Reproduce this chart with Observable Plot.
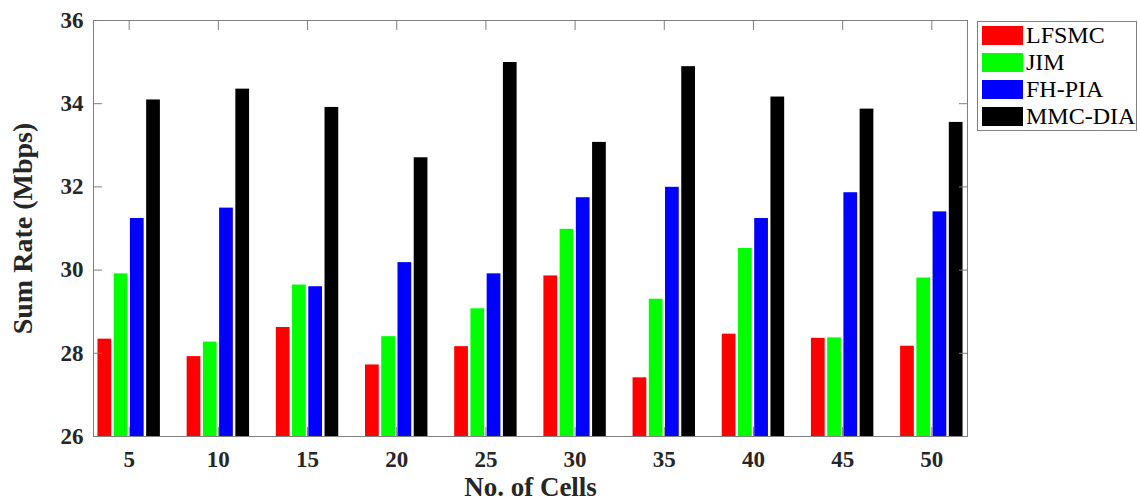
<!DOCTYPE html>
<html><head><meta charset="utf-8">
<script src="https://cdn.jsdelivr.net/npm/d3@7"></script>
<script src="https://cdn.jsdelivr.net/npm/@observablehq/plot@0.6"></script>
<style>
body{margin:0;background:#fff}
#wrap{position:relative;width:1138px;height:503px;font-family:"Liberation Serif","Times New Roman",serif}
#legend{position:absolute;left:977px;top:21px;width:160px;height:110px;border:1px solid #7f7f7f;box-sizing:border-box;background:#fff}
.row{position:absolute;left:4px;height:19px;display:flex;align-items:center}
.sw{width:41px;height:19px;box-sizing:border-box}
.lab{margin-left:3px;font-size:24px;line-height:19px;color:#000;white-space:nowrap}
</style></head><body>
<div id="wrap"><div id="chart"></div><div id="legend"></div></div>
<script>
const cells = [5, 10, 15, 20, 25, 30, 35, 40, 45, 50];
const series = ["LFSMC", "JIM", "FH-PIA", "MMC-DIA"];
const colors = ["#ff0000", "#00ff00", "#0000ff", "#000000"];
const lfsmc  = [28.34, 27.92, 28.62, 27.72, 28.16, 29.86, 27.41, 28.46, 28.36, 28.17];
const jim    = [29.91, 28.27, 29.64, 28.40, 29.07, 30.98, 29.30, 30.52, 28.37, 29.81];
const fhpia  = [31.24, 31.49, 29.60, 30.18, 29.91, 31.74, 31.99, 31.24, 31.86, 31.40];
const mmcdia = [34.09, 34.35, 33.91, 32.70, 34.99, 33.07, 34.89, 34.16, 33.87, 33.55];
const yTicks = [26, 28, 30, 32, 34, 36];
const xLabel = "No. of Cells";
const yLabel = "Sum Rate (Mbps)";

const seriesValues = [lfsmc, jim, fhpia, mmcdia];
const rows = series.flatMap((s, i) => cells.map((c, j) => ({cells: c, series: s, value: seriesValues[i][j]})));

const groupW = 62.4, barW = 13.7, pitch = (groupW - barW) / 3;
const gray = "#7f7f7f", ink = "#262626";

const bars = series.map((s, i) => Plot.barY(rows.filter(d => d.series === s), {
  x: "cells", y1: yTicks[0], y2: "value", fill: colors[i],
  insetLeft: i * pitch, insetRight: groupW - barW - i * pitch
}));

const chart = Plot.plot({
  width: 1138, height: 503,
  marginLeft: 93, marginRight: 171, marginTop: 20, marginBottom: 67,
  style: {fontFamily: '"Liberation Serif", "Times New Roman", serif', background: "#fff"},
  x: {type: "band", domain: cells, paddingInner: 0.3, paddingOuter: 0.05, round: false, label: null},
  y: {domain: [yTicks[0], yTicks[yTicks.length - 1]], label: null},
  marks: [
    ...bars,
    Plot.axisX({anchor: "bottom", tickSize: -9, tickFormat: () => "", stroke: gray, label: null}),
    Plot.axisX({anchor: "top", tickSize: -9, tickFormat: () => "", stroke: gray, label: null}),
    Plot.axisX({anchor: "bottom", tickSize: 0, tickPadding: 14, fontSize: 23, fontWeight: "bold", fill: ink, label: null}),
    Plot.axisY({anchor: "left", ticks: yTicks, tickSize: -9, tickFormat: () => "", stroke: gray, label: null}),
    Plot.axisY({anchor: "right", ticks: yTicks, tickSize: -9, tickFormat: () => "", stroke: gray, label: null}),
    Plot.axisY({anchor: "left", ticks: yTicks, tickSize: 0, tickPadding: 10, fontSize: 23, fontWeight: "bold", fill: ink, label: null}),
    Plot.frame({stroke: gray}),
    Plot.text([yLabel], {frameAnchor: "left", text: d => d, rotate: -90, dx: -70, textAnchor: "middle", lineAnchor: "middle", fontSize: 28, fontWeight: "bold", fill: ink}),
    Plot.text([xLabel], {frameAnchor: "bottom", text: d => d, dy: 51, textAnchor: "middle", lineAnchor: "middle", fontSize: 27, fontWeight: "bold", fill: ink})
  ]
});
document.getElementById("chart").appendChild(chart);

const legend = document.getElementById("legend");
series.forEach((s, i) => {
  const row = document.createElement("div");
  row.className = "row";
  row.style.top = (4 + i * 27) + "px";
  const sw = document.createElement("div");
  sw.className = "sw";
  sw.style.background = colors[i];
  const lab = document.createElement("span");
  lab.className = "lab";
  lab.textContent = s;
  row.appendChild(sw); row.appendChild(lab);
  legend.appendChild(row);
});
</script>
</body></html>
